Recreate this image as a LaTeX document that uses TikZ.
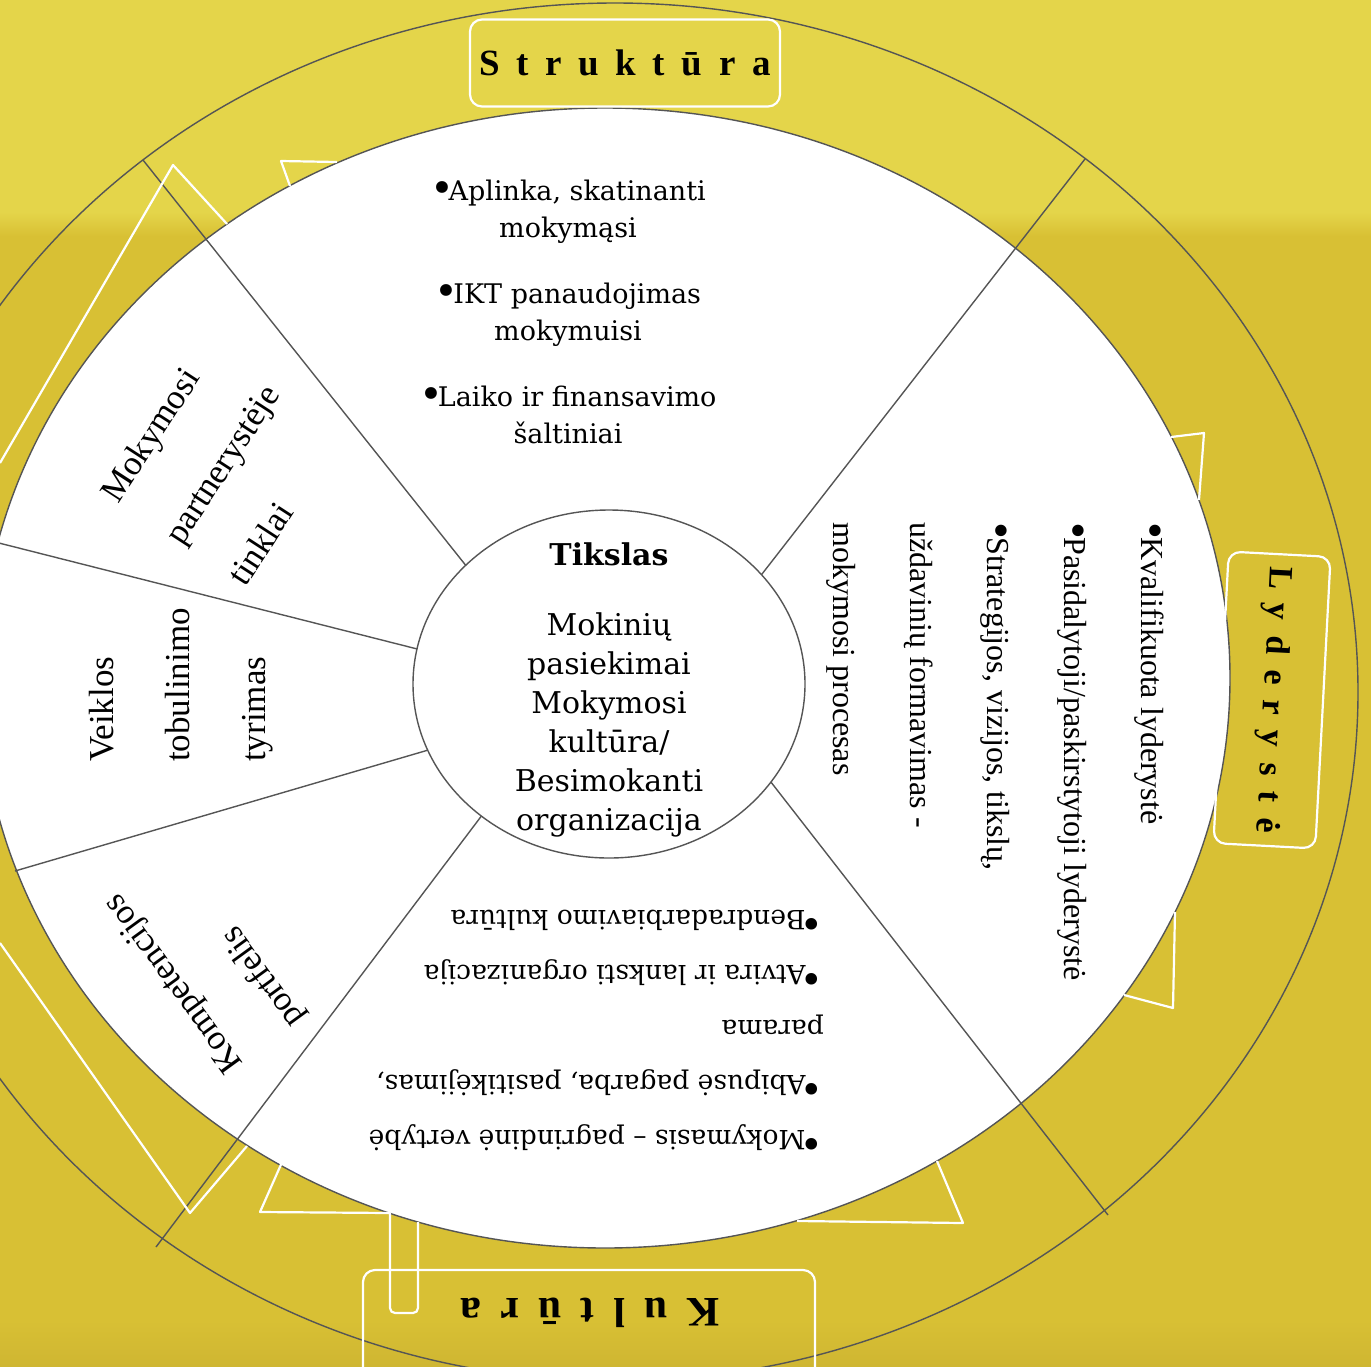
\documentclass[tikz,border=0pt]{standalone}
\usepackage{fontspec}
\setmainfont{Liberation Serif}
\newfontfamily\slabfont{DejaVu Serif}
\newfontfamily\labelfont[LetterSpace=45]{Liberation Serif}
\usetikzlibrary{shapes.geometric}
\usetikzlibrary{positioning}
\definecolor{ringtop}{RGB}{228,213,74}
\definecolor{ringlow}{RGB}{216,192,52}
\definecolor{ringbot}{RGB}{207,182,50}
\definecolor{rule}{RGB}{85,85,85}
\tikzset{divider/.style={draw=rule,line width=1.4pt}}
\tikzset{deco/.style={draw=white,line width=2.2pt,line join=round}}
\tikzset{labelbox/.style={draw=white,line width=2.2pt,rounded corners=12pt}}
\tikzset{tag/.style={inner sep=0pt,font=\labelfont\bfseries\fontsize{#1}{#1}\selectfont}}
\tikzset{sidelist/.style={inner sep=0pt,anchor=west,align=left,font=\fontsize{35}{76}\selectfont}}
\tikzset{goal/.style={ellipse,draw=rule,line width=1.4pt,fill=white,minimum width=392pt,minimum height=348pt,inner sep=0pt}}
\newcommand{\bul}[1][0.2em]{\raisebox{-0.12ex}{\scalebox{1.5}{•}}\kern-#1}
\newcommand{\backdrop}{
    \fill[ringlow] (0,0) rectangle (1371,1366);
    \fill[ringtop] (0,0) rectangle (1371,212);
    \shade[top color=ringtop,bottom color=ringlow] (0,212) rectangle (1371,236);
    \shade[top color=ringlow,bottom color=ringbot] (0,1320) rectangle (1371,1366);
}

\begin{document}
\begin{tikzpicture}[x=1pt,y=-1pt]
        \useasboundingbox (0,0) rectangle (1371,1366);
        \clip (0,0) rectangle (1371,1366);
        \backdrop

        \draw[divider] (615,692) ellipse [x radius=743pt,y radius=689pt];
        \filldraw[divider,fill=white] (605,678) ellipse [x radius=625pt,y radius=570pt];

        \draw[divider] (479,582) -- (143,160);
        \draw[divider] (748,592) -- (1085,159);
        \draw[divider] (760,768) -- (1108,1215);
        \draw[divider] (495,798) -- (156,1247);
        \draw[divider] (437,654) -- (-5,542);
        \draw[divider] (442,746) -- (15,871);

        \node[goal] (goal) at (609,684) {};

        \draw[deco] (0,463) -- (173,165) -- (227,224);
        \draw[deco] (337,162) -- (281,161) -- (290,186);
        \draw[deco] (1171,437) -- (1204,433) -- (1199,500);
        \draw[deco] (1175,912) -- (1173,1008) -- (1124,995);
        \draw[deco] (797,1221) -- (963,1223) -- (937,1161);
        \draw[deco] (283,1160) -- (260,1212) -- (390,1213)
            [rounded corners=5pt] -- (390,1313) -- (418,1313) -- (418,1222);
        \draw[deco] (0,943) -- (190,1213) -- (247,1146);
        \draw[labelbox] (363,1270) rectangle (815,1420);

        \node[labelbox,tag=37,minimum width=310pt,minimum height=87pt] (struct) at (625,63) {Struktūra};
        \node[labelbox,tag=34,rotate=-93,minimum width=292pt,minimum height=102pt] (lead) at (1272,700) {Lyderystė};
        \node[tag=42,rotate=180] (cult) at (590,1313) {Kultūra};

        \node[align=center,inner sep=0pt,font=\slabfont\fontsize{27}{37}\selectfont] (env) at (568,312)
            {\bul Aplinka, skatinanti\\ mokymąsi\\[29pt]
             \bul IKT panaudojimas\\ mokymuisi\\[29pt]
             \bul Laiko ir finansavimo\\ šaltiniai};
        \node[align=left,inner sep=0pt,anchor=west,rotate=-90,font=\fontsize{32}{77}\selectfont] (leadlist) at (995,522)
            {\bul[0.05em] Kvalifikuota lyderystė\\
             \bul[0.05em] Pasidalytoji/paskirstytoji lyderystė\\
             \bul[0.05em] Strategijos, vizijos, tikslų,\\
             uždavinių formavimas -\\
             mokymosi procesas};
        \node[align=left,inner sep=0pt,anchor=west,rotate=180,font=\slabfont\fontsize{26.5}{55}\selectfont] (cultlist) at (824,1030)
            {\bul Mokymasis – pagrindinė vertybė\\
             \bul Abipusė pagarba, pasitikėjimas,\\
             parama\\
             \bul Atvira ir lanksti organizacija\\
             \bul Bendradarbiavimo kultūra};

        \node[sidelist,rotate=57] (netw) at (172,540) {Mokymosi\\ partnerystėje\\ tinklai};
        \node[sidelist,rotate=90] (research) at (181,762) {Veiklos\\ tobulinimo\\ tyrimas};
        \node[sidelist,rotate=126] (portf) at (268,1046) {Kompetencijos\\ portfelis};

        \node[align=center,inner sep=0pt,font=\slabfont\fontsize{30}{39}\selectfont] (aim) at (609,690)
            {\textbf{Tikslas}\\[31pt]
             Mokinių\\ pasiekimai\\ Mokymosi\\ kultūra/\\ Besimokanti\\ organizacija};
    \end{tikzpicture}
\end{document}
